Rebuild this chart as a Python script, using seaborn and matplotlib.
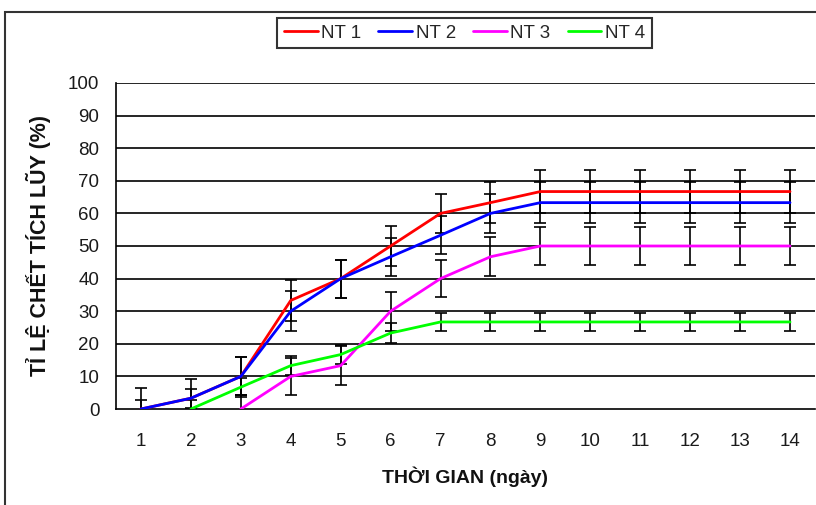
import numpy as np
import pandas as pd
import matplotlib
matplotlib.use("Agg")
import matplotlib.pyplot as plt
import seaborn as sns
from matplotlib.patches import Rectangle
from matplotlib.lines import Line2D

days = list(range(1, 15))
series_names = ["NT 1", "NT 2", "NT 3", "NT 4"]
colors = ["#FF0000", "#0000FF", "#FF00FF", "#00FF00"]
nan = np.nan
nt1 = [0, 3.3, 10, 33.3, 40, 50, 60, 63.3, 66.7, 66.7, 66.7, 66.7, 66.7, 66.7]
nt2 = [0, 3.3, 10, 30, 40, 46.7, 53.3, 60, 63.3, 63.3, 63.3, 63.3, 63.3, 63.3]
nt3 = [nan, nan, 0, 10, 13.3, 30, 40, 46.7, 50, 50, 50, 50, 50, 50]
nt4 = [nan, 0, 6.7, 13.3, 16.7, 23.3, 26.7, 26.7, 26.7, 26.7, 26.7, 26.7, 26.7, 26.7]
err1 = [6.4, 5.8, 5.8, 6.3, 5.8, 6.0, 6.0, 6.3, 6.5, 6.5, 6.5, 6.5, 6.5, 6.5]
err2 = [2.9, 2.9, 5.8, 6.2, 5.8, 5.8, 5.8, 6.0, 6.3, 6.3, 6.3, 6.3, 6.3, 6.3]
err3 = [nan, nan, 4.3, 5.7, 6.0, 6.0, 5.7, 6.0, 5.8, 5.8, 5.8, 5.8, 5.8, 5.8]
err4 = [nan, 2.9, 2.9, 2.9, 2.9, 3.0, 2.9, 2.9, 2.9, 2.9, 2.9, 2.9, 2.9, 2.9]
y_ticks = list(range(0, 101, 10))

values = [nt1, nt2, nt3, nt4]
errors = [err1, err2, err3, err4]

rows = []
for name, vals in zip(series_names, values):
    for d, v in zip(days, vals):
        rows.append({"day": d, "value": v, "series": name})
df = pd.DataFrame(rows)

sns.set_style("white")
plt.rcParams['font.family'] = ['Liberation Sans', 'DejaVu Sans']

fig = plt.figure(figsize=(8.16, 5.05), dpi=100)
ax = fig.add_axes([116/816, (505-409)/505, (815-116)/816, (409-83)/505])

for vals, errs in zip(values, errors):
    ax.errorbar(days, vals, yerr=errs, fmt="none", ecolor="black",
                elinewidth=1.2, capsize=4, capthick=1.2, zorder=3)

sns.lineplot(data=df, x="day", y="value", hue="series", palette=colors,
             hue_order=series_names, linewidth=2.0, ax=ax, legend=False,
             zorder=4, estimator=None)

tick_fs = 13.5
ax.set_xlim(0.5, 14.5)
ax.set_ylim(0, 100)
ax.set_yticks(y_ticks)
ax.set_yticklabels([str(t) for t in y_ticks], fontsize=tick_fs)
ax.set_xticks(days)
ax.set_xticklabels([str(d) for d in days], fontsize=tick_fs)
ax.set_xticks(np.arange(0.5, 15, 1), minor=True)
ax.tick_params(axis="x", which="major", length=0, pad=17)
ax.tick_params(axis="x", which="minor", length=6, width=1.2, color="black", direction="out")
ax.tick_params(axis="y", which="major", length=6, width=1.2, color="black", direction="out", pad=6)
for t in ax.get_xticklabels() + ax.get_yticklabels():
    t.set_color("#1a1a1a")

for y in y_ticks[1:]:
    ax.axhline(y, color="black", linewidth=1.2, zorder=1)

for s in ["top", "right"]:
    ax.spines[s].set_visible(False)
for s in ["left", "bottom"]:
    ax.spines[s].set_color("black")
    ax.spines[s].set_linewidth(1.2)

ax.set_xlabel("THỜI GIAN (ngày)", fontsize=14, fontweight="bold", labelpad=12, color="#111111")
ax.set_ylabel("TỈ LỆ CHẾT TÍCH LŨY (%)", fontsize=15.5, fontweight="bold", color="#111111")
ax.yaxis.set_label_coords(-(116-51)/699, 0.5)

handles = [Line2D([0], [0], color=c, linewidth=2.0) for c in colors]
leg = fig.legend(handles, series_names, loc="center", bbox_to_anchor=(464.5/816, 1-33/505),
                 ncol=4, frameon=True, fancybox=False, edgecolor="black",
                 fontsize=13.5, handlelength=1.8, handletextpad=0.2,
                 columnspacing=0.9, borderpad=0.35)
leg.get_frame().set_linewidth(1.5)

fig.patches.append(Rectangle((5/816, -0.1), 1.2, 1.1 - 12/505, transform=fig.transFigure,
                             fill=False, edgecolor="#333333", linewidth=1.5))

fig.savefig("out.png", dpi=100)
